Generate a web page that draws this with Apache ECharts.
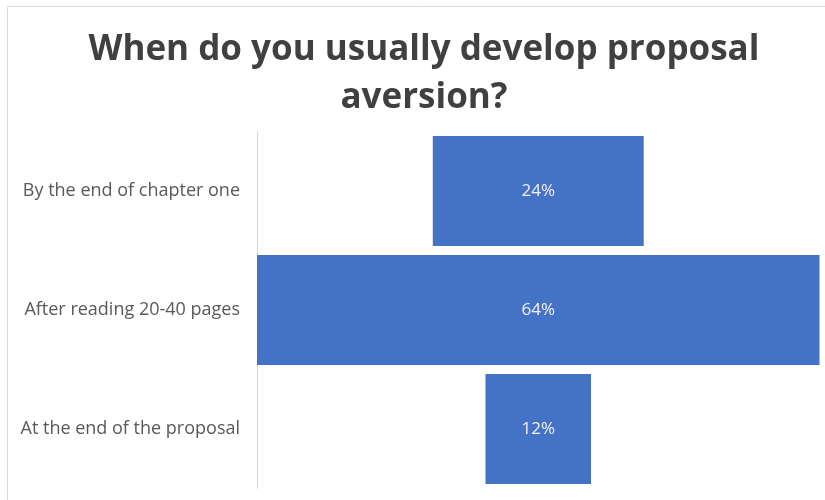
<!DOCTYPE html>
<html>
<head>
<meta charset="utf-8">
<script src="https://cdn.jsdelivr.net/npm/echarts@6/dist/echarts.min.js"></script>
<style>html,body{margin:0;padding:0;background:#fff}#c{width:825px;height:500px}</style>
</head>
<body>
<div id="c"></div>
<script>
var categories = ['By the end of chapter one', 'After reading 20-40 pages', 'At the end of the proposal'];
var values = [24, 64, 12];
var titleText = 'When do you usually develop proposal\naversion?';

var maxVal = Math.max.apply(null, values);
var offsets = values.map(function (v) { return (maxVal - v) / 2; });

var chart = echarts.init(document.getElementById('c'));
chart.setOption({
  animation: false,
  title: {
    text: titleText,
    left: 419,
    textAlign: 'center',
    top: 21,
    textStyle: {
      fontFamily: 'Open Sans',
      fontWeight: 'bold',
      fontSize: 35,
      lineHeight: 48,
      color: '#404040'
    }
  },
  graphic: [{
    type: 'rect',
    shape: { x: 7.5, y: 6.5, width: 840, height: 520 },
    style: { fill: 'none', stroke: '#D9D9D9', lineWidth: 1 },
    silent: true
  }],
  grid: { left: 257, right: 5.5, top: 131.5, bottom: 11.5, containLabel: false },
  xAxis: { type: 'value', min: 0, max: maxVal, show: false },
  yAxis: {
    type: 'category',
    data: categories,
    inverse: true,
    axisTick: { show: false },
    axisLine: { show: true, lineStyle: { color: '#D9D9D9', width: 1 } },
    axisLabel: { margin: 17, color: '#595959', fontFamily: 'Open Sans', fontSize: 18 }
  },
  series: [
    {
      type: 'bar', stack: 'f', data: offsets,
      itemStyle: { color: 'transparent' }, silent: true,
      barCategoryGap: '7.6%'
    },
    {
      type: 'bar', stack: 'f', data: values,
      barCategoryGap: '7.6%',
      itemStyle: { color: '#4472C4' },
      label: {
        show: true, position: 'inside', formatter: '{c}%',
        color: '#F2F2F2', fontFamily: 'Open Sans', fontSize: 17
      }
    }
  ]
});
</script>
</body>
</html>
